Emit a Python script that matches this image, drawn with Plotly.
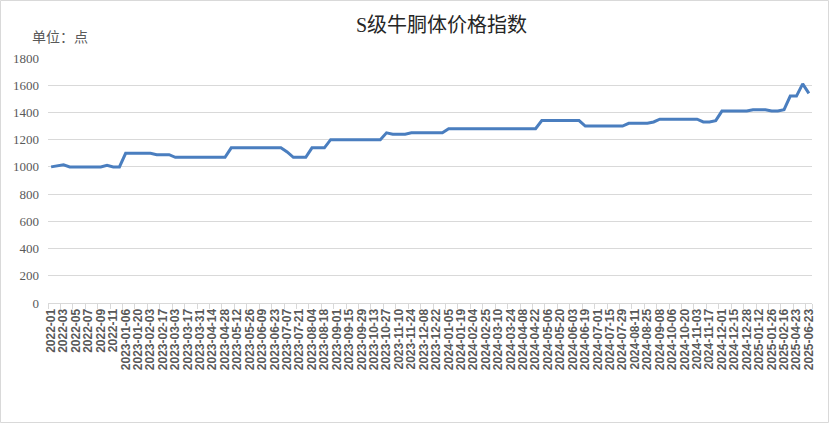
import plotly.graph_objects as go

dates = [
    "2022-01", "2022-02", "2022-03", "2022-04", "2022-05", "2022-06", "2022-07", "2022-08",
    "2022-09", "2022-10", "2022-11", "2022-12",
    "2023-01-06", "2023-01-13", "2023-01-20", "2023-01-27", "2023-02-03", "2023-02-10",
    "2023-02-17", "2023-02-24", "2023-03-03", "2023-03-10", "2023-03-17", "2023-03-24",
    "2023-03-31", "2023-04-07", "2023-04-14", "2023-04-21", "2023-04-28", "2023-05-05",
    "2023-05-12", "2023-05-19", "2023-05-26", "2023-06-02", "2023-06-09", "2023-06-16",
    "2023-06-23", "2023-06-30", "2023-07-07", "2023-07-14", "2023-07-21", "2023-07-28",
    "2023-08-04", "2023-08-11", "2023-08-18", "2023-08-25", "2023-09-01", "2023-09-08",
    "2023-09-15", "2023-09-22", "2023-09-29", "2023-10-06", "2023-10-13", "2023-10-20",
    "2023-10-27", "2023-11-03", "2023-11-10", "2023-11-17", "2023-11-24", "2023-12-01",
    "2023-12-08", "2023-12-15", "2023-12-22", "2023-12-29", "2024-01-05", "2024-01-12",
    "2024-01-19", "2024-01-26", "2024-02-04", "2024-02-18", "2024-02-25", "2024-03-03",
    "2024-03-10", "2024-03-17", "2024-03-24", "2024-03-31", "2024-04-08", "2024-04-15",
    "2024-04-22", "2024-04-29", "2024-05-06", "2024-05-13", "2024-05-20", "2024-05-27",
    "2024-06-03", "2024-06-11", "2024-06-19", "2024-06-24", "2024-07-01", "2024-07-08",
    "2024-07-15", "2024-07-22", "2024-07-29", "2024-08-04", "2024-08-11", "2024-08-18",
    "2024-08-25", "2024-09-01", "2024-09-08", "2024-09-22", "2024-10-06", "2024-10-13",
    "2024-10-20", "2024-10-27", "2024-11-03", "2024-11-10", "2024-11-17", "2024-11-24",
    "2024-12-01", "2024-12-08", "2024-12-15", "2024-12-22", "2024-12-28", "2025-01-05",
    "2025-01-12", "2025-01-19", "2025-01-26", "2025-02-09", "2025-02-16", "2025-03-23",
    "2025-04-23", "2025-05-23", "2025-06-23",
]

index_values = [
    1000, 1005, 1015, 1000, 1000, 1000, 1000, 1000, 1000, 1012, 1000, 1000,
    1100, 1100, 1100, 1100, 1100, 1090, 1090, 1090, 1070, 1070, 1070, 1070,
    1070, 1070, 1070, 1070, 1070, 1140, 1140, 1140, 1140, 1140, 1140, 1140,
    1140, 1140, 1110, 1070, 1070, 1070, 1140, 1140, 1140, 1200, 1200, 1200,
    1200, 1200, 1200, 1200, 1200, 1200, 1250, 1240, 1240, 1240, 1250, 1250,
    1250, 1250, 1250, 1250, 1280, 1280, 1280, 1280, 1280, 1280, 1280, 1280,
    1280, 1280, 1280, 1280, 1280, 1280, 1280, 1340, 1340, 1340, 1340, 1340,
    1340, 1340, 1300, 1300, 1300, 1300, 1300, 1300, 1300, 1320, 1320, 1320,
    1320, 1330, 1350, 1350, 1350, 1350, 1350, 1350, 1350, 1330, 1330, 1340,
    1410, 1410, 1410, 1410, 1410, 1420, 1420, 1420, 1410, 1410, 1420, 1520,
    1520, 1610, 1540,
]

y_ticks = [0, 200, 400, 600, 800, 1000, 1200, 1400, 1600, 1800]
title_text = "S级牛胴体价格指数"
unit_text = "单位：点"

W, H = 830, 424
ML, MR, MT, MB = 48, 18, 58, 121

label_dates = dates[::2]

fig = go.Figure()
fig.add_trace(go.Scatter(
    x=dates, y=index_values, mode="lines",
    line=dict(color="#4A7EBF", width=3),
    showlegend=False, hoverinfo="skip",
))

fig.update_layout(
    width=W, height=H,
    margin=dict(l=ML, r=MR, t=MT, b=MB),
    paper_bgcolor="white", plot_bgcolor="white",
    title=dict(
        text=title_text, x=0.532, xanchor="center", y=1 - 25 / H, yanchor="middle",
        font=dict(family="Liberation Serif, Noto Sans CJK SC", size=20, color="#262626"),
    ),
    xaxis=dict(
        type="category",
        categoryorder="array", categoryarray=dates,
        tickmode="array", tickvals=label_dates, ticktext=label_dates,
        tickangle=-90,
        tickfont=dict(family="Liberation Sans", size=12, color="#595959", weight="bold"),
        ticks="outside", ticklen=5, tickcolor="#d9d9d9", tickson="boundaries",
        showgrid=False, showline=True, linecolor="#d9d9d9", linewidth=1,
        range=[-0.5, len(dates) - 0.5], zeroline=False,
    ),
    yaxis=dict(
        range=[0, 1800], tickvals=y_ticks,
        tickfont=dict(family="Liberation Serif", size=13, color="#595959"),
        showgrid=True, gridcolor="#d9d9d9", gridwidth=1,
        zeroline=False, showline=False, ticks="", ticklabelstandoff=8,
    ),
    annotations=[dict(
        text=unit_text, xref="paper", yref="paper",
        x=(30 - ML) / (W - ML - MR), y=1 + (MT - 36) / (H - MT - MB),
        xanchor="left", yanchor="middle", showarrow=False,
        font=dict(family="Noto Sans CJK SC", size=14, color="#595959"),
    )],
    shapes=[dict(
        type="rect", xref="paper", yref="paper",
        x0=-(ML - 0.5) / (W - ML - MR), x1=1 + (MR - 1.5) / (W - ML - MR),
        y0=-(MB - 1.5) / (H - MT - MB), y1=1 + (MT - 0.5) / (H - MT - MB),
        line=dict(color="#d9d9d9", width=1), layer="below",
    )],
)

fig.write_html(
    "out.html",
    config={"displayModeBar": False},
    post_script="document.body.style.margin='0';document.body.style.padding='0';",
)
